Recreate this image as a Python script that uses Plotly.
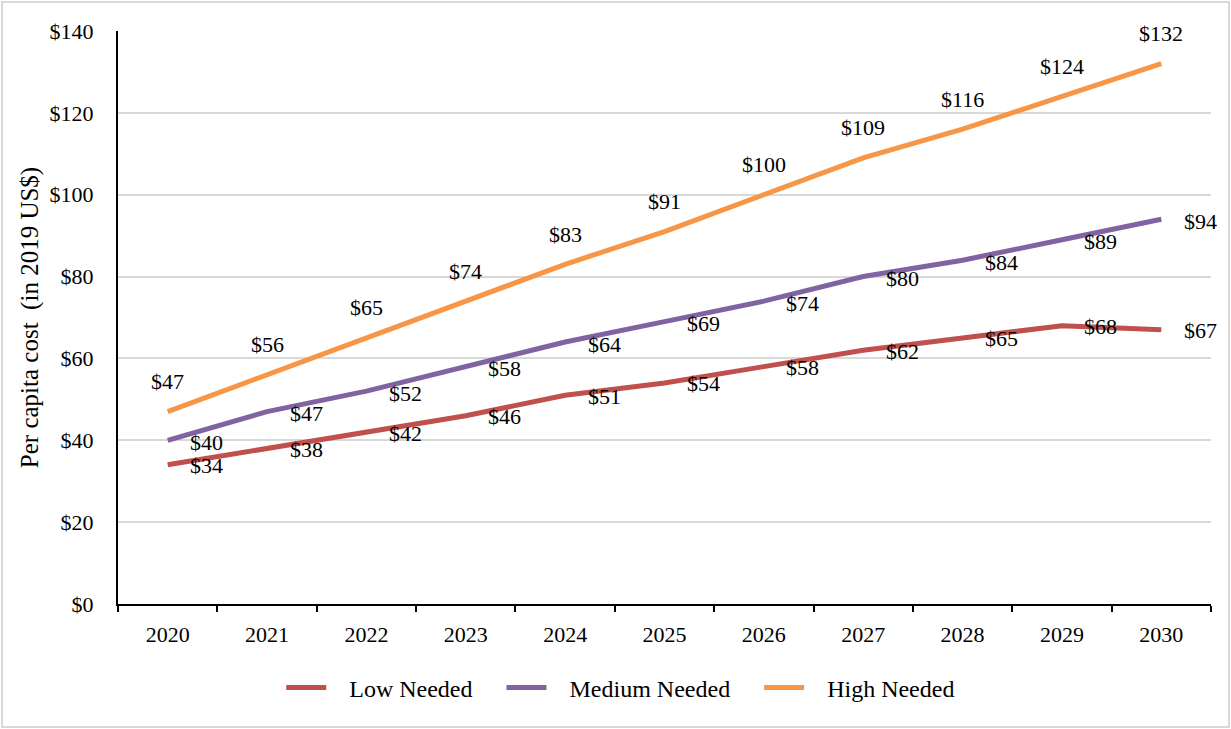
import plotly.graph_objects as go

years = ["2020", "2021", "2022", "2023", "2024", "2025", "2026", "2027", "2028", "2029", "2030"]
low_needed = [34, 38, 42, 46, 51, 54, 58, 62, 65, 68, 67]
medium_needed = [40, 47, 52, 58, 64, 69, 74, 80, 84, 89, 94]
high_needed = [47, 56, 65, 74, 83, 91, 100, 109, 116, 124, 132]

FONT = "Liberation Serif"
W, H = 1231, 729
ML, MR, MT, MB = 118, 20, 31, 125

series = [
    ("Low Needed", low_needed, "#C0504D", 39, -1),
    ("Medium Needed", medium_needed, "#8064A2", 39, -2),
    ("High Needed", high_needed, "#F79646", 0, 30),
]

NB = "\u00a0"
fig = go.Figure()
annotations = []
for name, vals, color, xs, ys in series:
    fig.add_trace(go.Scatter(
        x=years, y=vals, mode="lines", name=NB * 3 + name + NB * 4,
        line=dict(color=color, width=5),
    ))
    for i, yv in enumerate(vals):
        annotations.append(dict(
            x=i, y=yv, xref="x", yref="y", text=f"${yv}", showarrow=False,
            xshift=xs, yshift=ys,
            font=dict(family=FONT, size=22, color="black"),
        ))

pw = W - ML - MR
ph = H - MT - MB
fig.add_shape(
    type="rect", xref="paper", yref="paper",
    x0=(2 - ML) / pw, x1=(W - 2 - ML) / pw,
    y0=-(H - 2 - MT - ph) / ph, y1=1 + (MT - 2) / ph,
    line=dict(color="#D9D9D9", width=2), fillcolor="rgba(0,0,0,0)",
    layer="below",
)

fig.update_layout(
    width=W, height=H,
    margin=dict(l=ML, r=MR, t=MT, b=MB, autoexpand=False),
    paper_bgcolor="white", plot_bgcolor="white",
    font=dict(family=FONT, size=22, color="black"),
    showlegend=True,
    legend=dict(
        orientation="h", xref="container", yref="container",
        x=0.514, xanchor="center", y=1 - 688 / H, yanchor="middle",
        font=dict(family=FONT, size=24, color="black"),
        bgcolor="rgba(0,0,0,0)",
        itemwidth=40, traceorder="normal",
    ),
    annotations=annotations,
    xaxis=dict(
        type="category", range=[-0.5, len(years) - 0.5],
        tickson="boundaries", ticks="outside", ticklen=6,
        tickcolor="black", tickwidth=2, tickangle=0, automargin=False,
        showline=True, linecolor="black", linewidth=2,
        showgrid=False, ticklabelstandoff=10,
        tickfont=dict(family=FONT, size=22, color="black"),
    ),
    yaxis=dict(
        range=[0, 140], dtick=20, tickprefix="$", automargin=False,
        showgrid=True, gridcolor="#D9D9D9", gridwidth=2,
        showline=True, linecolor="black", linewidth=2,
        ticks="", ticklabelstandoff=18, zeroline=False,
        tickfont=dict(family=FONT, size=22, color="black"),
        title=dict(text="Per capita cost  (in 2019 US$)", standoff=4,
                   font=dict(family=FONT, size=25, color="black")),
    ),
)

fig.write_html("out.html")
